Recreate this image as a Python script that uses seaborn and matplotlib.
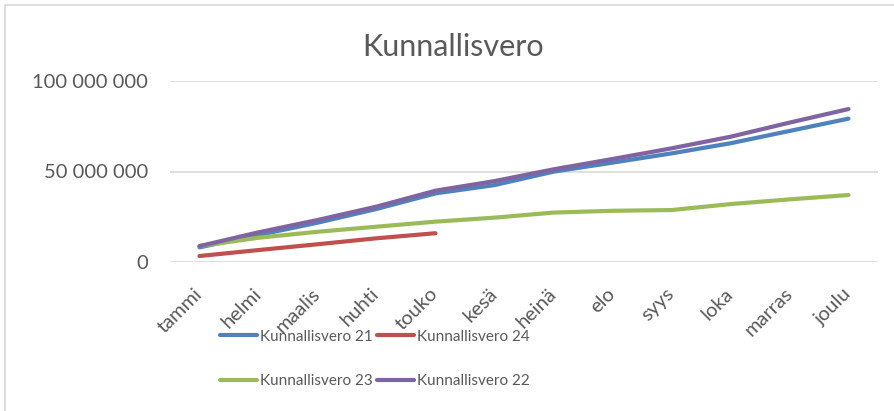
import matplotlib
matplotlib.use("Agg")
import matplotlib.pyplot as plt
import seaborn as sns
import pandas as pd
from matplotlib.lines import Line2D
from matplotlib.ticker import FuncFormatter

sns.set_theme(style="white")
plt.rcParams['font.family'] = ['Lato', 'DejaVu Sans']

months = ["tammi", "helmi", "maalis", "huhti", "touko", "kesä",
          "heinä", "elo", "syys", "loka", "marras", "joulu"]

# values in euros
vero21 = [8.1e6, 14.9e6, 21.7e6, 29.3e6, 37.9e6, 42.5e6,
          49.9e6, 54.9e6, 60.0e6, 65.6e6, 72.4e6, 79.2e6]
vero22 = [8.8e6, 16.4e6, 23.2e6, 30.6e6, 39.4e6, 44.7e6,
          51.2e6, 56.9e6, 62.8e6, 69.2e6, 77.0e6, 84.5e6]
vero23 = [8.8e6, 13.4e6, 16.7e6, 19.5e6, 22.3e6, 24.5e6,
          27.3e6, 28.3e6, 28.7e6, 32.0e6, 34.6e6, 37.0e6]
vero24 = [3.3e6, 6.6e6, 9.8e6, 13.1e6, 15.9e6]

series = {
    "Kunnallisvero 21": vero21,
    "Kunnallisvero 24": vero24,
    "Kunnallisvero 23": vero23,
    "Kunnallisvero 22": vero22,
}
colors = {
    "Kunnallisvero 21": "#4F81BD",
    "Kunnallisvero 24": "#C0504D",
    "Kunnallisvero 23": "#9BBB59",
    "Kunnallisvero 22": "#8064A2",
}

rows = []
for name, vals in series.items():
    for i, v in enumerate(vals):
        rows.append({"kk": i, "kuukausi": months[i], "sarja": name, "arvo": v})
df = pd.DataFrame(rows)

text_col = "#595959"
fig = plt.figure(figsize=(8.94, 4.11), dpi=100)
ax = fig.add_axes([170 / 894, 1 - 262 / 411, 708 / 894, 181 / 411])

# draw order: 21, 24, 23, 22 (22 on top)
for name in ["Kunnallisvero 21", "Kunnallisvero 24", "Kunnallisvero 23", "Kunnallisvero 22"]:
    sub = df[df["sarja"] == name]
    sns.lineplot(data=sub, x="kk", y="arvo", ax=ax, color=colors[name],
                 linewidth=3.0, solid_capstyle="round", label=name, legend=False)

ax.set_xlim(-0.5, 11.5)
ax.set_ylim(0, 100e6)
ax.set_yticks([0, 50e6, 100e6])
ax.yaxis.set_major_formatter(FuncFormatter(lambda v, p: f"{int(v):,}".replace(",", " ")))
ax.set_xticks(range(12))
ax.set_xticklabels(months, rotation=45, ha="right", va="center", rotation_mode="anchor")
ax.tick_params(axis="x", length=0, pad=21, labelsize=14.5, labelcolor=text_col)
ax.tick_params(axis="y", length=0, pad=16, labelsize=14.5, labelcolor=text_col)
ax.set_xlabel("")
ax.set_ylabel("")
for s in ax.spines.values():
    s.set_visible(False)
ax.grid(axis="y", color="#D9D9D9", linewidth=1.2)
ax.set_axisbelow(True)

fig.text(453 / 894, 1 - 47 / 411, "Kunnallisvero", ha="center", va="center",
         fontsize=22, color=text_col)

handles = {name: Line2D([], [], color=colors[name], linewidth=3.0, solid_capstyle="round")
           for name in series}
order = ["Kunnallisvero 21", "Kunnallisvero 23", "Kunnallisvero 24", "Kunnallisvero 22"]
leg = fig.legend([handles[n] for n in order], order, ncol=2, frameon=False,
                 loc="center left", bbox_to_anchor=(220 / 894, 1 - 359 / 411),
                 fontsize=11, labelcolor=text_col, handlelength=2.4, handletextpad=0.2,
                 columnspacing=0.3, labelspacing=2.0, borderpad=0, borderaxespad=0)

# chart frame (top and left edges visible in the picture)
fig.add_artist(Line2D([5 / 894, 1.0], [1 - 5 / 411, 1 - 5 / 411], color="#D9D9D9", linewidth=1.2))
fig.add_artist(Line2D([5 / 894, 5 / 894], [0.0, 1 - 5 / 411], color="#D9D9D9", linewidth=1.2))

fig.savefig("out.png", dpi=100)
